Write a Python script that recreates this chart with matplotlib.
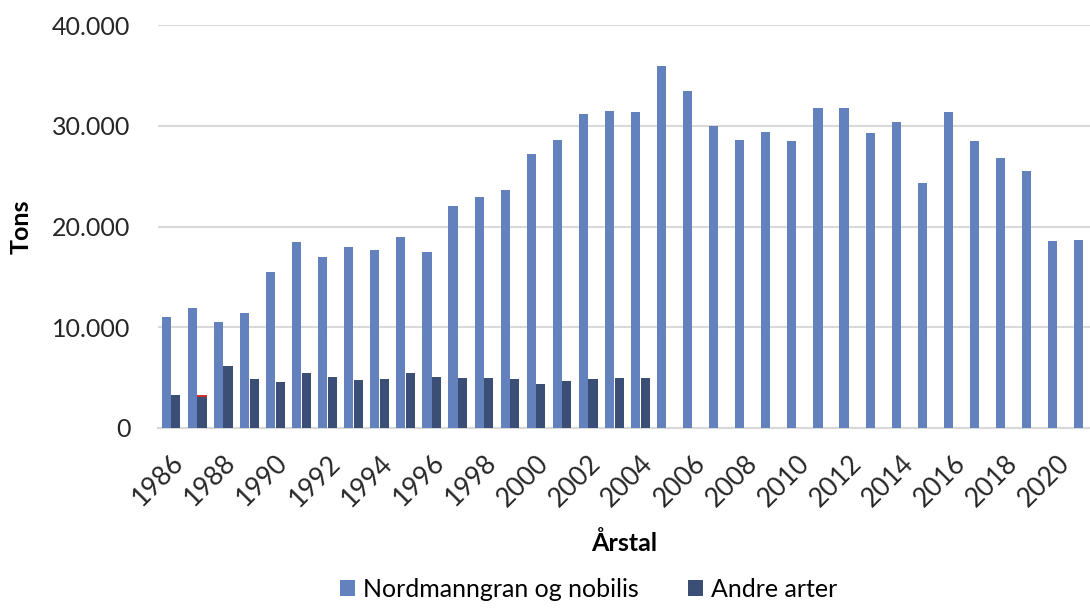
import numpy as np
from matplotlib import pyplot as plt
from matplotlib.ticker import FuncFormatter

# data (tons per year)
years = list(range(1986, 2022))
nordmann = [11000, 11900, 10500, 11400, 15500, 18500, 17000, 18000, 17700, 19000,
            17500, 22000, 22900, 23600, 27200, 28600, 31200, 31500, 31400, 35900,
            33500, 30000, 28600, 29400, 28500, 31800, 31800, 29300, 30400, 24300,
            31400, 28500, 26800, 25500, 18600, 18700]
andre = [3300, 3100, 6200, 4900, 4600, 5500, 5100, 4800, 4900, 5500,
         5100, 5000, 5000, 4900, 4400, 4700, 4900, 5000, 5000]
andre_extra = [0, 200]  # small red segment on top of 1987

blue = '#6382bd'
dark = '#3a4e76'

plt.rcParams['font.family'] = ['Lato', 'DejaVu Sans']

fig = plt.figure(figsize=(10.9, 6.12), dpi=100)
ax = fig.add_axes([0.145, 0.3007, 0.855, 0.6583])

x = np.arange(len(years))
w = 0.35
ax.bar(x - w / 2 - 0.01, nordmann, w, color=blue, label='Nordmanngran og nobilis', zorder=3)
xa = np.arange(len(andre))
ax.bar(xa + w / 2 + 0.01, andre, w, color=dark, label='Andre arter', zorder=3)
ax.bar(np.arange(len(andre_extra)) + w / 2 + 0.01, andre_extra, w,
       bottom=andre[:len(andre_extra)], color='#d03030', zorder=3)

ax.set_ylim(0, 40000)
ax.set_xlim(-0.5, 35.25)
ax.set_yticks(range(0, 40001, 10000))
ax.yaxis.set_major_formatter(FuncFormatter(lambda v, p: f"{int(v):,}".replace(',', '.')))
ax.grid(axis='y', color='#d9d9d9', linewidth=1.5, zorder=0)
ax.set_axisbelow(True)
for s in ['top', 'right', 'left']:
    ax.spines[s].set_visible(False)
ax.spines['bottom'].set_color('#d9d9d9')
ax.spines['bottom'].set_linewidth(1.5)

ax.set_xticks(x[::2])
ax.set_xticklabels([str(y) for y in years[::2]], rotation=45, ha='right', va='top',
                   rotation_mode='anchor', fontsize=19, color='#262626')
ax.tick_params(axis='both', length=0)
ax.tick_params(axis='x', pad=16)
ax.tick_params(axis='y', labelsize=18, labelcolor='#262626', pad=20)

ax.set_ylabel('Tons', fontsize=18, fontweight='bold', labelpad=14)
ax.set_xlabel('Årstal', fontsize=18, fontweight='bold', labelpad=14)

handles, labels = ax.get_legend_handles_labels()
fig.legend(handles, labels, loc='lower center', bbox_to_anchor=(0.54, -0.018), ncol=2,
           frameon=False, fontsize=18, handlelength=0.6, handleheight=0.6,
           handletextpad=0.3, columnspacing=2.0)

plt.savefig('out.png', dpi=100)
plt.close()
